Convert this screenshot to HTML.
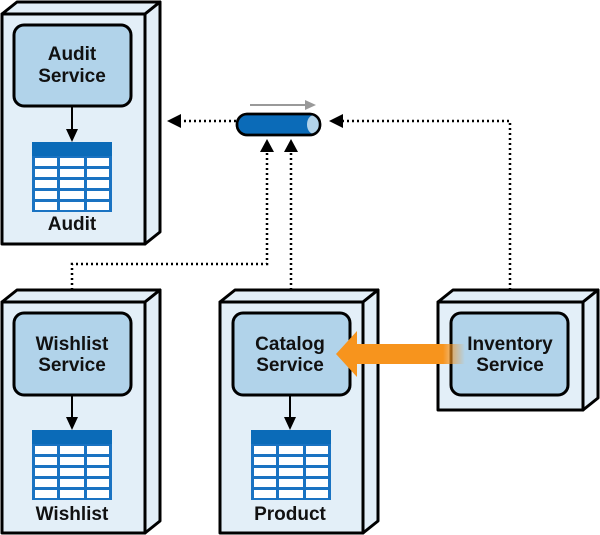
<!DOCTYPE html>
<html><head><style>body{margin:0;background:#fff}svg{display:block}text{font-family:"Liberation Sans",sans-serif;font-weight:bold;fill:#111;text-anchor:middle}</style></head>
<body>
<svg width="600" height="535" viewBox="0 0 600 535" xmlns="http://www.w3.org/2000/svg">
<defs>
<g id="tbl">
<rect x="0" y="0" width="80" height="70" fill="#1a73c2"/>
<rect x="0" y="0" width="80" height="14" fill="#0b6bb8"/>
<g fill="#fff">
<rect x="3" y="16" width="22" height="8"/><rect x="28" y="16" width="24" height="8"/><rect x="55" y="16" width="22" height="8"/>
<rect x="3" y="27" width="22" height="8"/><rect x="28" y="27" width="24" height="8"/><rect x="55" y="27" width="22" height="8"/>
<rect x="3" y="38" width="22" height="8"/><rect x="28" y="38" width="24" height="8"/><rect x="55" y="38" width="22" height="8"/>
<rect x="3" y="49" width="22" height="8"/><rect x="28" y="49" width="24" height="8"/><rect x="55" y="49" width="22" height="8"/>
<rect x="3" y="60" width="22" height="8"/><rect x="28" y="60" width="24" height="8"/><rect x="55" y="60" width="22" height="8"/>
</g>
</g>
<linearGradient id="og" x1="0" x2="1"><stop offset="0.8" stop-color="#f7941d"/><stop offset="1" stop-color="#f7941d" stop-opacity="0"/></linearGradient>
</defs>
<g stroke="#000" stroke-width="3" stroke-linejoin="round" fill="#e3eff8">
<!-- Audit -->
<polygon points="2,14 17,2 160,2 145,14"/><polygon points="145,14 160,2 160,232 145,244"/><rect x="2" y="14" width="143" height="230"/>
<!-- Wishlist -->
<polygon points="2,302 17,290 160,290 145,302"/><polygon points="145,302 160,290 160,521 145,533"/><rect x="2" y="302" width="143" height="231"/>
<!-- Catalog -->
<polygon points="220,302 235,290 378,290 363,302"/><polygon points="363,302 378,290 378,521 363,533"/><rect x="220" y="302" width="143" height="231"/>
<!-- Inventory -->
<polygon points="438,302 453,290 598,290 583,302"/><polygon points="583,302 598,290 598,398 583,410"/><rect x="438" y="302" width="145" height="108"/>
</g>
<g stroke="#000" stroke-width="3" fill="#b1d3ea">
<rect x="14" y="25" width="117" height="81" rx="10"/>
<rect x="14" y="313" width="117" height="82" rx="10"/>
<rect x="233" y="313" width="117" height="82" rx="10"/>
<rect x="451" y="313" width="117" height="82" rx="10"/>
</g>
<use href="#tbl" x="32" y="142"/><use href="#tbl" x="32" y="430"/><use href="#tbl" x="251" y="430"/>
<g stroke="#000" stroke-width="2"><line x1="72" y1="106" x2="72" y2="130"/><line x1="72" y1="395" x2="72" y2="418"/><line x1="290" y1="395" x2="290" y2="418"/></g>
<g fill="#000"><polygon points="66,129 78,129 72,142"/><polygon points="66,417 78,417 72,430"/><polygon points="284,417 296,417 290,430"/></g>
<text x="72" y="60" font-size="19">Audit</text><text x="72" y="82" font-size="19">Service</text>
<text x="72" y="230" font-size="19">Audit</text>
<text x="72" y="350" font-size="19">Wishlist</text><text x="72" y="371" font-size="19">Service</text>
<text x="72" y="520" font-size="19">Wishlist</text>
<text x="290" y="350" font-size="19">Catalog</text><text x="290" y="371" font-size="19">Service</text>
<text x="290" y="520" font-size="19">Product</text>
<text x="510" y="350" font-size="19">Inventory</text><text x="510" y="371" font-size="19">Service</text>
<!-- dotted -->
<g stroke="#000" stroke-width="2.5" stroke-dasharray="2,3" fill="none">
<line x1="236" y1="121" x2="180" y2="121"/>
<polyline points="510,290 510,121 342,121"/>
<polyline points="72,290 72,264 267,264 267,152"/>
<line x1="291" y1="290" x2="291" y2="152"/>
</g>
<g fill="#000">
<polygon points="167,121 181,114 181,128"/>
<polygon points="329,121 343,114 343,128"/>
<polygon points="267,139 260,152 274,152"/>
<polygon points="291,139 284,152 298,152"/>
</g>
<!-- queue -->
<line x1="250" y1="105" x2="306" y2="105" stroke="#999" stroke-width="2"/><polygon points="316,105 305,100 305,110" fill="#999"/>
<rect x="237" y="114" width="83" height="21" rx="10" fill="#0b6bb8" stroke="#000" stroke-width="2.5"/>
<ellipse cx="313" cy="124.5" rx="6" ry="9" fill="#b1d3ea"/>
<rect x="237" y="114" width="83" height="21" rx="10" fill="none" stroke="#000" stroke-width="2.5"/>
<!-- orange arrow -->
<rect x="355" y="344" width="110" height="20" fill="url(#og)"/>
<polygon points="336,354 357,331 357,377" fill="#f7941d"/>
</svg>
</body></html>
